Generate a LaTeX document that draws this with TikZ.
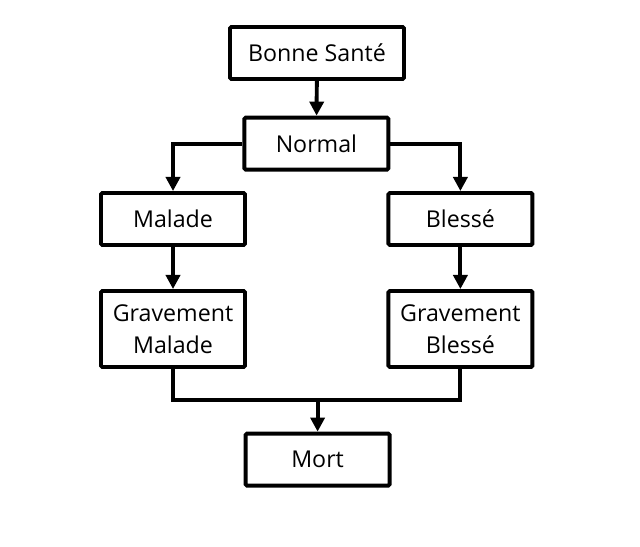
\documentclass[tikz,border=0pt]{standalone}
\usepackage{fontspec}
\setmainfont{Open Sans}
\usepackage{tikz}
\usetikzlibrary{arrows.meta,
                positioning}

\begin{document}
\begin{tikzpicture}[
        etat/.style={
            rectangle,
            draw,
            line width=2.8pt,
            rounded corners=1pt,
            minimum width=3.6cm,
            minimum height=1.3cm,
            align=center,
            font=\fontsize{16.5}{23}\selectfont,
            fill=white
        },
        grand etat/.style={
            etat,
            minimum height=1.9cm
        },
        lien/.style={line width=2.8pt},
        fleche/.style={lien,-{Triangle[length=10pt,width=10pt]}}
    ]
    \useasboundingbox (0,0) rectangle (16,-13.65);

    % etats
    \node[etat,minimum width=4.35cm] (sante) at (7.925,-1.325) {Bonne Santé};
    \node[etat] (normal) at (7.91,-3.59) {Normal};
    \node[etat] (malade) at (4.325,-5.475) {Malade};
    \node[etat] (blesse) at (11.51,-5.475) {Blessé};
    \node[grand etat] (gmalade) at (4.325,-8.225) {Gravement\\Malade};
    \node[grand etat] (gblesse) at (11.51,-8.225) {Gravement\\Blessé};
    \node[etat] (mort) at (7.94,-11.49) {Mort};

    % liaisons
    \draw[fleche] (sante) -- (normal);
    \draw[fleche] (normal.west) -| (malade.north);
    \draw[fleche] (normal.east) -| (blesse.north);
    \draw[fleche] (malade) -- (gmalade);
    \draw[fleche] (blesse) -- (gblesse);

    % jonction vers mort
    \coordinate (jonction) at (7.94,-10);
    \draw[lien] (gmalade.south) |- (jonction) -| (gblesse.south);
    \draw[fleche] (jonction) -- (mort);
\end{tikzpicture}
\end{document}
